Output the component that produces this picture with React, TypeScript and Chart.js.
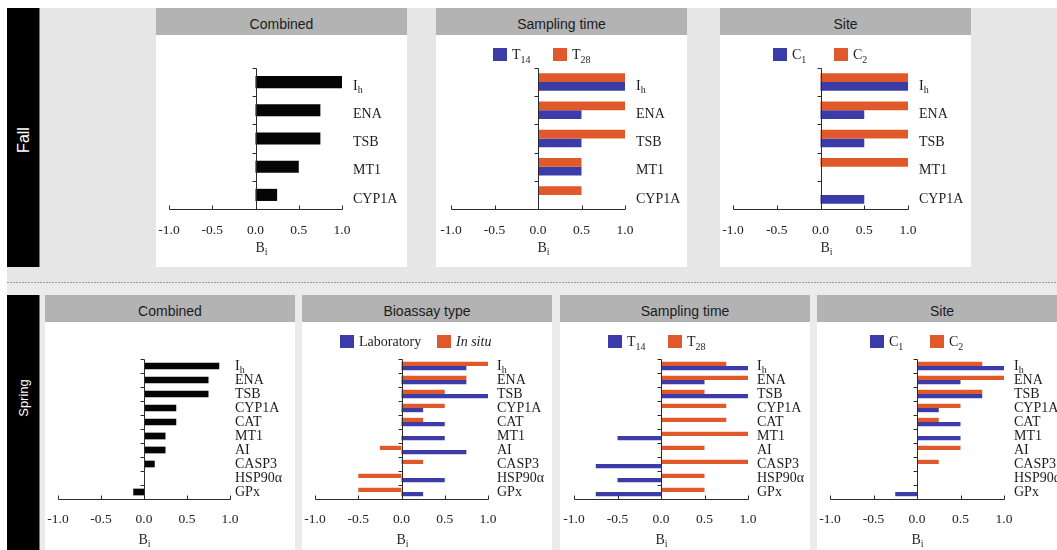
import React, { useEffect, useRef } from 'react';
import { Chart, registerables } from 'chart.js';

Chart.register(...registerables);

// ---- data -------------------------------------------------------------
const fallMarkers = ['I_h', 'ENA', 'TSB', 'MT1', 'CYP1A'];
const springMarkers = ['I_h', 'ENA', 'TSB', 'CYP1A', 'CAT', 'MT1', 'AI', 'CASP3', 'HSP90α', 'GPx'];
const xTicks = [-1, -0.5, 0, 0.5, 1];

const fallCombined = [1, 0.75, 0.75, 0.5, 0.25];
const fallT14 = [1, 0.5, 0.5, 0.5, 0];
const fallT28 = [1, 1, 1, 0.5, 0.5];
const fallC1 = [1, 0.5, 0.5, 0, 0.5];
const fallC2 = [1, 1, 1, 1, 0];

const springCombined = [0.875, 0.75, 0.75, 0.375, 0.375, 0.25, 0.25, 0.125, 0, -0.125];
const springLaboratory = [0.75, 0.75, 1, 0.25, 0.5, 0.5, 0.75, 0, 0.5, 0.25];
const springInSitu = [1, 0.75, 0.5, 0.5, 0.25, 0, -0.25, 0.25, -0.5, -0.5];
const springT14 = [1, 0.5, 1, 0, 0, -0.5, 0, -0.75, -0.5, -0.75];
const springT28 = [0.75, 1, 0.5, 0.75, 0.75, 1, 0.5, 1, 0.5, 0.5];
const springC1 = [1, 0.5, 0.75, 0.25, 0.5, 0.5, 0, 0, 0, -0.25];
const springC2 = [0.75, 1, 0.75, 0.5, 0.25, 0, 0.5, 0.25, 0, 0];

// ---- style ------------------------------------------------------------
const ORANGE = '#e0592a';
const BLUE = '#3b3ca8';
const BLACK = '#050505';
const HEADER = '#b3b3b3';
const SERIF = '"Liberation Serif", "Times New Roman", serif';
const SANS = '"Liberation Sans", Arial, sans-serif';

function drawRich(ctx: CanvasRenderingContext2D, text: string, x: number, y: number, size: number, align: string) {
  const [main, sub] = text.split('_');
  const mainFont = `${size}px ${SERIF}`;
  const subFont = `${Math.round(size * 0.68)}px ${SERIF}`;
  ctx.font = mainFont;
  const wMain = ctx.measureText(main).width;
  let wSub = 0;
  if (sub) {
    ctx.font = subFont;
    wSub = ctx.measureText(sub).width;
  }
  const start = align === 'center' ? x - (wMain + wSub) / 2 : x;
  ctx.textAlign = 'left';
  ctx.font = mainFont;
  ctx.fillText(main, start, y);
  if (sub) {
    ctx.font = subFont;
    ctx.fillText(sub, start + wMain, y + size * 0.3);
  }
}

// Axis lines, inward tick marks, right-hand marker names and the B_i title.
const panelAxes = {
  id: 'panelAxes',
  afterDraw(chart: any, _args: any, o: any) {
    const { ctx, chartArea: a, scales } = chart;
    const xs = scales.x;
    const ys = scales.y;
    const crisp = (v: number) => Math.round(v) + 0.5;
    const labels: string[] = chart.data.labels;
    ctx.save();
    ctx.strokeStyle = '#2b2b2b';
    ctx.lineWidth = 1;
    const xb = crisp(a.bottom);
    const x0 = crisp(xs.getPixelForValue(0));
    ctx.beginPath();
    ctx.moveTo(crisp(xs.getPixelForValue(xTicks[0])), xb);
    ctx.lineTo(crisp(xs.getPixelForValue(xTicks[xTicks.length - 1])), xb);
    xTicks.forEach((v) => {
      const px = crisp(xs.getPixelForValue(v));
      ctx.moveTo(px, xb);
      ctx.lineTo(px, xb - 4);
    });
    ctx.moveTo(x0, crisp(a.top));
    ctx.lineTo(x0, xb);
    const half = (ys.getPixelForValue(1) - ys.getPixelForValue(0)) / 2;
    labels.forEach((_, i) => {
      const py = crisp(ys.getPixelForValue(i) - half);
      ctx.moveTo(x0 - 4, py);
      ctx.lineTo(x0, py);
    });
    ctx.stroke();

    ctx.fillStyle = '#1e1e1e';
    ctx.textBaseline = 'middle';
    const lx = xs.getPixelForValue(1) + o.labelGap;
    labels.forEach((t, i) => drawRich(ctx, t, lx, ys.getPixelForValue(i) + o.labelDy, 14, 'left'));
    ctx.fillStyle = '#2a2a2a';
    drawRich(ctx, 'B_i', o.titleAlign === 'center' ? x0 : x0 - 1, a.bottom + o.titleDy, 14, o.titleAlign);
    ctx.restore();
  },
};

type Series = { data: number[]; color: string };
type LegendItem = { color: string; left: number; label: React.ReactNode };
type PanelProps = {
  left: number;
  top: number;
  width: number;
  bodyHeight: number;
  title: string;
  labels: string[];
  series: Series[];
  catPct: number;
  padLeft: number;
  padRight: number;
  padTop: number;
  axisHeight: number;
  tickPad: number;
  labelGap: number;
  labelDy: number;
  titleDy: number;
  titleAlign: string;
  legendTop?: number;
  legend?: LegendItem[];
};

function Panel(p: PanelProps) {
  const ref = useRef<HTMLCanvasElement>(null);
  useEffect(() => {
    const canvas = ref.current;
    if (!canvas) return;
    const chart = new Chart(canvas, {
      type: 'bar',
      data: {
        labels: p.labels,
        datasets: p.series.map((s) => ({
          data: s.data,
          backgroundColor: s.color,
          borderWidth: 0,
          categoryPercentage: p.catPct,
          barPercentage: 1,
        })),
      },
      options: {
        indexAxis: 'y',
        responsive: false,
        maintainAspectRatio: false,
        animation: false,
        events: [],
        layout: { padding: { left: p.padLeft, right: p.padRight, top: p.padTop, bottom: 0 } },
        plugins: {
          legend: { display: false },
          tooltip: { enabled: false },
          panelAxes: {
            labelGap: p.labelGap,
            labelDy: p.labelDy,
            titleDy: p.titleDy,
            titleAlign: p.titleAlign,
          },
        } as any,
        scales: {
          x: {
            type: 'linear',
            min: -1,
            max: 1,
            position: 'bottom',
            grid: { display: false, drawTicks: false },
            border: { display: false },
            ticks: {
              font: { family: SERIF, size: 13.5 },
              color: '#222222',
              padding: p.tickPad,
              maxRotation: 0,
              autoSkip: false,
              callback: (v: any) => Number(v).toFixed(1),
            },
            afterBuildTicks: (s: any) => {
              s.ticks = xTicks.map((v) => ({ value: v }));
            },
            afterFit: (s: any) => {
              s.height = p.axisHeight;
              s.paddingLeft = 0;
              s.paddingRight = 0;
            },
          },
          y: { type: 'category', display: false, offset: true },
        },
      } as any,
      plugins: [panelAxes],
    });
    return () => chart.destroy();
  }, []);

  return (
    <div style={{ position: 'absolute', left: p.left, top: p.top, width: p.width }}>
      <div
        style={{
          height: 27,
          boxSizing: 'border-box',
          paddingTop: 5,
          background: HEADER,
          color: '#1c1c1c',
          font: `14px ${SANS}`,
          display: 'flex',
          alignItems: 'center',
          justifyContent: 'center',
        }}
      >
        {p.title}
      </div>
      <div style={{ position: 'relative', width: p.width, height: p.bodyHeight, background: '#ffffff' }}>
        <canvas ref={ref} width={p.width} height={p.bodyHeight} style={{ display: 'block' }} />
        {(p.legend || []).map((it, i) => (
          <div
            key={i}
            style={{
              position: 'absolute',
              left: it.left,
              top: p.legendTop,
              height: 13,
              display: 'flex',
              alignItems: 'center',
              whiteSpace: 'nowrap',
              font: `14px ${SERIF}`,
              color: '#1e1e1e',
            }}
          >
            <span style={{ display: 'inline-block', width: 14, height: 13, background: it.color, marginRight: 5 }} />
            <span style={{ lineHeight: '13px' }}>{it.label}</span>
          </div>
        ))}
      </div>
    </div>
  );
}

const Sub = ({ children }: { children: React.ReactNode }) => (
  <span style={{ fontSize: 10, position: 'relative', top: 4 }}>{children}</span>
);

const fallBase = {
  top: 8,
  width: 251,
  bodyHeight: 232,
  labels: fallMarkers,
  padTop: 33,
  axisHeight: 58,
  tickPad: 13,
  labelGap: 11,
  labelDy: 4,
  titleDy: 39,
  titleAlign: 'left',
  legendTop: 13,
};

const springBase = {
  top: 295,
  width: 250,
  bodyHeight: 228,
  labels: springMarkers,
  padTop: 37,
  axisHeight: 51,
  tickPad: 12,
  labelGap: 9,
  labelDy: 0,
  titleDy: 41,
  titleAlign: 'center',
  legendTop: 13,
};

export default function App() {
  return (
    <div
      style={{
        position: 'fixed',
        left: 0,
        top: 0,
        width: 1057,
        height: 550,
        overflow: 'hidden',
        background: '#ffffff',
      }}
    >
      <div style={{ position: 'absolute', left: 7, top: 8, right: 0, height: 274, background: '#e5e6e5' }} />
      <div style={{ position: 'absolute', left: 7, top: 282, right: 0, bottom: 0, background: '#eaebea' }} />
      <div
        style={{
          position: 'absolute',
          left: 7,
          top: 282,
          right: 0,
          height: 1,
          backgroundImage: 'repeating-linear-gradient(to right, #9a9a9a 0 2px, transparent 2px 3px)',
        }}
      />

      <div style={{ position: 'absolute', left: 7, top: 8, width: 32, height: 259, background: '#000', borderRight: '1px solid #777' }} />
      <div
        style={{
          position: 'absolute',
          left: 24,
          top: 140,
          transform: 'translate(-50%, -50%) rotate(-90deg)',
          color: '#fff',
          font: `16px ${SANS}`,
          whiteSpace: 'nowrap',
        }}
      >
        Fall
      </div>
      <div style={{ position: 'absolute', left: 7, top: 295, width: 32, height: 255, background: '#000', borderRight: '1px solid #777' }} />
      <div
        style={{
          position: 'absolute',
          left: 23,
          top: 398,
          transform: 'translate(-50%, -50%) rotate(-90deg)',
          color: '#fff',
          font: `13px ${SANS}`,
          whiteSpace: 'nowrap',
        }}
      >
        Spring
      </div>

      <Panel
        {...fallBase}
        left={156}
        title="Combined"
        series={[{ data: fallCombined, color: BLACK }]}
        catPct={0.43}
        padLeft={13}
        padRight={65}
      />
      <Panel
        {...fallBase}
        left={436}
        title="Sampling time"
        series={[
          { data: fallT28, color: ORANGE },
          { data: fallT14, color: BLUE },
        ]}
        catPct={0.62}
        padLeft={15}
        padRight={62}
        legend={[
          { color: BLUE, left: 57, label: <>T<Sub>14</Sub></> },
          { color: ORANGE, left: 117, label: <>T<Sub>28</Sub></> },
        ]}
      />
      <Panel
        {...fallBase}
        left={720}
        title="Site"
        series={[
          { data: fallC2, color: ORANGE },
          { data: fallC1, color: BLUE },
        ]}
        catPct={0.62}
        padLeft={13}
        padRight={63}
        legend={[
          { color: BLUE, left: 53, label: <>C<Sub>1</Sub></> },
          { color: ORANGE, left: 114, label: <>C<Sub>2</Sub></> },
        ]}
      />

      <Panel
        {...springBase}
        left={45}
        title="Combined"
        series={[{ data: springCombined, color: BLACK }]}
        catPct={0.48}
        padLeft={13}
        padRight={65}
        labelGap={5}
      />
      <Panel
        {...springBase}
        left={302}
        title="Bioassay type"
        series={[
          { data: springInSitu, color: ORANGE },
          { data: springLaboratory, color: BLUE },
        ]}
        catPct={0.6}
        padLeft={13}
        padRight={64}
        legend={[
          { color: BLUE, left: 38, label: 'Laboratory' },
          { color: ORANGE, left: 135, label: <i>In situ</i> },
        ]}
      />
      <Panel
        {...springBase}
        left={560}
        title="Sampling time"
        series={[
          { data: springT28, color: ORANGE },
          { data: springT14, color: BLUE },
        ]}
        catPct={0.6}
        padLeft={14}
        padRight={62}
        legend={[
          { color: BLUE, left: 48, label: <>T<Sub>14</Sub></> },
          { color: ORANGE, left: 108, label: <>T<Sub>28</Sub></> },
        ]}
      />
      <Panel
        {...springBase}
        left={817}
        title="Site"
        series={[
          { data: springC2, color: ORANGE },
          { data: springC1, color: BLUE },
        ]}
        catPct={0.6}
        padLeft={13}
        padRight={63}
        labelGap={10}
        legend={[
          { color: BLUE, left: 53, label: <>C<Sub>1</Sub></> },
          { color: ORANGE, left: 113, label: <>C<Sub>2</Sub></> },
        ]}
      />
    </div>
  );
}
